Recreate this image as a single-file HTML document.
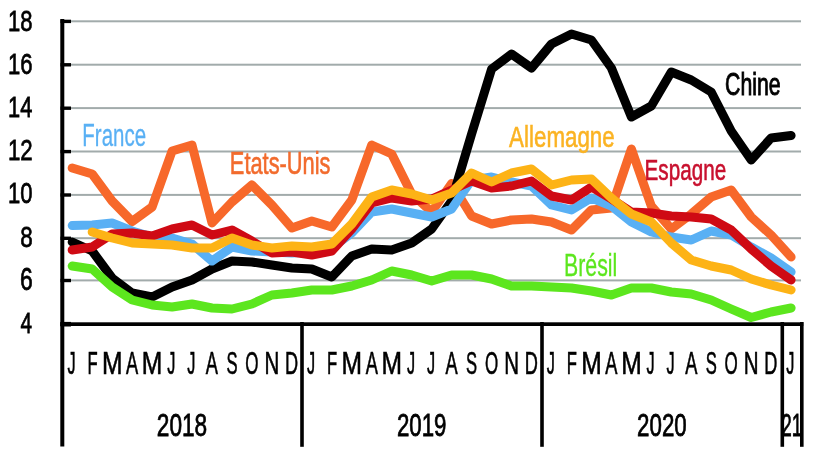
<!DOCTYPE html><html><head><meta charset="utf-8"><style>html,body{margin:0;padding:0;background:#fff;width:820px;height:449px;overflow:hidden}svg{display:block;will-change:transform}text{font-family:"Liberation Sans",sans-serif}</style></head><body>
<svg width="820" height="449" viewBox="0 0 820 449">
<rect x="64" y="20.3" width="737" height="2" fill="#A2ABAB"/>
<rect x="60.5" y="19.7" width="10.5" height="3.4" fill="#000"/>
<rect x="64" y="63.7" width="737" height="2" fill="#A2ABAB"/>
<rect x="60.5" y="63.1" width="10.5" height="3.4" fill="#000"/>
<rect x="64" y="107.1" width="737" height="2" fill="#A2ABAB"/>
<rect x="60.5" y="106.5" width="10.5" height="3.4" fill="#000"/>
<rect x="64" y="150.5" width="737" height="2" fill="#A2ABAB"/>
<rect x="60.5" y="149.9" width="10.5" height="3.4" fill="#000"/>
<rect x="64" y="193.9" width="737" height="2" fill="#A2ABAB"/>
<rect x="60.5" y="193.3" width="10.5" height="3.4" fill="#000"/>
<rect x="64" y="237.2" width="737" height="2" fill="#A2ABAB"/>
<rect x="60.5" y="236.6" width="10.5" height="3.4" fill="#000"/>
<rect x="64" y="279.4" width="737" height="2" fill="#A2ABAB"/>
<rect x="60.5" y="278.8" width="10.5" height="3.4" fill="#000"/>
<rect x="60.3" y="19" width="4" height="427.5" fill="#000"/>
<rect x="60.3" y="322.3" width="743" height="3.7" fill="#000"/>
<rect x="60.5" y="321.9" width="10.5" height="4.6" fill="#000"/>
<text transform="translate(7.98,31.10) scale(0.2206,0.3042)" font-size="100" fill="#000" stroke="#000" stroke-width="2.5">18</text>
<text transform="translate(7.98,73.70) scale(0.2206,0.3042)" font-size="100" fill="#000" stroke="#000" stroke-width="2.5">16</text>
<text transform="translate(7.99,117.20) scale(0.2184,0.3042)" font-size="100" fill="#000" stroke="#000" stroke-width="2.5">14</text>
<text transform="translate(7.96,160.40) scale(0.2228,0.3042)" font-size="100" fill="#000" stroke="#000" stroke-width="2.5">12</text>
<text transform="translate(7.98,203.40) scale(0.2206,0.3042)" font-size="100" fill="#000" stroke="#000" stroke-width="2.5">10</text>
<text transform="translate(20.13,246.90) scale(0.2245,0.3042)" font-size="100" fill="#000" stroke="#000" stroke-width="2.5">8</text>
<text transform="translate(19.88,290.10) scale(0.2292,0.3042)" font-size="100" fill="#000" stroke="#000" stroke-width="2.5">6</text>
<text transform="translate(20.59,333.20) scale(0.2075,0.3042)" font-size="100" fill="#000" stroke="#000" stroke-width="2.5">4</text>
<text transform="translate(67.44,374.49) scale(0.1628,0.3085)" font-size="100" fill="#000" stroke="#000" stroke-width="2">J</text>
<text transform="translate(87.45,374.49) scale(0.1667,0.3085)" font-size="100" fill="#000" stroke="#000" stroke-width="2">F</text>
<text transform="translate(101.92,374.49) scale(0.2464,0.3085)" font-size="100" fill="#000" stroke="#000" stroke-width="2">M</text>
<text transform="translate(125.99,374.49) scale(0.1826,0.3085)" font-size="100" fill="#000" stroke="#000" stroke-width="2">A</text>
<text transform="translate(141.86,374.49) scale(0.2464,0.3085)" font-size="100" fill="#000" stroke="#000" stroke-width="2">M</text>
<text transform="translate(167.29,374.49) scale(0.1628,0.3085)" font-size="100" fill="#000" stroke="#000" stroke-width="2">J</text>
<text transform="translate(187.26,374.49) scale(0.1628,0.3085)" font-size="100" fill="#000" stroke="#000" stroke-width="2">J</text>
<text transform="translate(205.87,374.49) scale(0.1826,0.3085)" font-size="100" fill="#000" stroke="#000" stroke-width="2">A</text>
<text transform="translate(226.40,374.49) scale(0.1661,0.3085)" font-size="100" fill="#000" stroke="#000" stroke-width="2">S</text>
<text transform="translate(245.30,374.49) scale(0.1700,0.3085)" font-size="100" fill="#000" stroke="#000" stroke-width="2">O</text>
<text transform="translate(264.51,374.49) scale(0.2052,0.3085)" font-size="100" fill="#000" stroke="#000" stroke-width="2">N</text>
<text transform="translate(285.05,374.49) scale(0.1820,0.3085)" font-size="100" fill="#000" stroke="#000" stroke-width="2">D</text>
<text transform="translate(307.08,374.49) scale(0.1628,0.3085)" font-size="100" fill="#000" stroke="#000" stroke-width="2">J</text>
<text transform="translate(327.09,374.49) scale(0.1667,0.3085)" font-size="100" fill="#000" stroke="#000" stroke-width="2">F</text>
<text transform="translate(341.56,374.49) scale(0.2464,0.3085)" font-size="100" fill="#000" stroke="#000" stroke-width="2">M</text>
<text transform="translate(365.63,374.49) scale(0.1826,0.3085)" font-size="100" fill="#000" stroke="#000" stroke-width="2">A</text>
<text transform="translate(381.50,374.49) scale(0.2464,0.3085)" font-size="100" fill="#000" stroke="#000" stroke-width="2">M</text>
<text transform="translate(406.93,374.49) scale(0.1628,0.3085)" font-size="100" fill="#000" stroke="#000" stroke-width="2">J</text>
<text transform="translate(426.90,374.49) scale(0.1628,0.3085)" font-size="100" fill="#000" stroke="#000" stroke-width="2">J</text>
<text transform="translate(445.51,374.49) scale(0.1826,0.3085)" font-size="100" fill="#000" stroke="#000" stroke-width="2">A</text>
<text transform="translate(466.04,374.49) scale(0.1661,0.3085)" font-size="100" fill="#000" stroke="#000" stroke-width="2">S</text>
<text transform="translate(484.94,374.49) scale(0.1700,0.3085)" font-size="100" fill="#000" stroke="#000" stroke-width="2">O</text>
<text transform="translate(504.15,374.49) scale(0.2052,0.3085)" font-size="100" fill="#000" stroke="#000" stroke-width="2">N</text>
<text transform="translate(524.69,374.49) scale(0.1820,0.3085)" font-size="100" fill="#000" stroke="#000" stroke-width="2">D</text>
<text transform="translate(546.72,374.49) scale(0.1628,0.3085)" font-size="100" fill="#000" stroke="#000" stroke-width="2">J</text>
<text transform="translate(566.73,374.49) scale(0.1667,0.3085)" font-size="100" fill="#000" stroke="#000" stroke-width="2">F</text>
<text transform="translate(581.20,374.49) scale(0.2464,0.3085)" font-size="100" fill="#000" stroke="#000" stroke-width="2">M</text>
<text transform="translate(605.27,374.49) scale(0.1826,0.3085)" font-size="100" fill="#000" stroke="#000" stroke-width="2">A</text>
<text transform="translate(621.14,374.49) scale(0.2464,0.3085)" font-size="100" fill="#000" stroke="#000" stroke-width="2">M</text>
<text transform="translate(646.57,374.49) scale(0.1628,0.3085)" font-size="100" fill="#000" stroke="#000" stroke-width="2">J</text>
<text transform="translate(666.54,374.49) scale(0.1628,0.3085)" font-size="100" fill="#000" stroke="#000" stroke-width="2">J</text>
<text transform="translate(685.15,374.49) scale(0.1826,0.3085)" font-size="100" fill="#000" stroke="#000" stroke-width="2">A</text>
<text transform="translate(705.68,374.49) scale(0.1661,0.3085)" font-size="100" fill="#000" stroke="#000" stroke-width="2">S</text>
<text transform="translate(724.58,374.49) scale(0.1700,0.3085)" font-size="100" fill="#000" stroke="#000" stroke-width="2">O</text>
<text transform="translate(743.79,374.49) scale(0.2052,0.3085)" font-size="100" fill="#000" stroke="#000" stroke-width="2">N</text>
<text transform="translate(764.33,374.49) scale(0.1820,0.3085)" font-size="100" fill="#000" stroke="#000" stroke-width="2">D</text>
<text transform="translate(786.36,374.49) scale(0.1628,0.3085)" font-size="100" fill="#000" stroke="#000" stroke-width="2">J</text>
<text transform="translate(156.79,436.09) scale(0.2265,0.3099)" font-size="100" fill="#000" stroke="#000" stroke-width="2.5">2018</text>
<text transform="translate(396.91,436.09) scale(0.2228,0.3099)" font-size="100" fill="#000" stroke="#000" stroke-width="2.5">2019</text>
<text transform="translate(637.11,436.09) scale(0.2231,0.3099)" font-size="100" fill="#000" stroke="#000" stroke-width="2.5">2020</text>
<text transform="translate(781.24,436.09) scale(0.1893,0.3099)" font-size="100" fill="#000" stroke="#000" stroke-width="2.5">21</text>
<rect x="300.2" y="322" width="3.6" height="124.8" fill="#000"/>
<rect x="540.2" y="322" width="3.6" height="124.8" fill="#000"/>
<rect x="780.5" y="322" width="3.6" height="124.8" fill="#000"/>
<rect x="800" y="322" width="3.6" height="124.8" fill="#000"/>
<polyline points="72.2,168 92.2,174 112.1,201 132.1,221.5 152.1,207 172.1,151 192.0,145 212.0,223 232.0,202 251.9,185 271.9,205 291.9,228 311.8,221 331.8,227 351.8,200 371.7,145 391.7,154 411.7,194 431.7,212 451.6,183.5 471.6,216 491.6,224 511.5,220 531.5,219 551.5,222 571.5,230 591.4,210 611.4,208 631.4,149 651.3,206 671.3,229 691.3,214 711.2,197 731.2,190 751.2,217 771.1,235 791.1,257" fill="none" stroke="#F7682A" stroke-width="9" stroke-linejoin="round" stroke-linecap="round"/>
<polyline points="72.2,242 92.2,251 112.1,278 132.1,293 152.1,297 172.1,287 192.0,280 212.0,269 232.0,261 251.9,262 271.9,265 291.9,268 311.8,269 331.8,277 351.8,256 371.7,249 391.7,250 411.7,243 431.7,229 451.6,201 471.6,134 491.6,69 511.5,54 531.5,68 551.5,44 571.5,34 591.4,40 611.4,68 631.4,117 651.3,106 671.3,72 691.3,80 711.2,92 731.2,131 751.2,160 771.1,138 791.1,135.5" fill="none" stroke="#000000" stroke-width="9" stroke-linejoin="round" stroke-linecap="round"/>
<polyline points="72.2,266 92.2,269 112.1,287 132.1,300 152.1,305 172.1,307 192.0,304 212.0,308 232.0,309 251.9,304 271.9,295 291.9,293 311.8,290 331.8,290 351.8,286 371.7,280 391.7,271 411.7,275 431.7,281 451.6,275 471.6,275 491.6,279 511.5,286 531.5,286 551.5,287 571.5,288 591.4,291 611.4,295 631.4,288 651.3,288 671.3,292 691.3,294 711.2,300 731.2,309 751.2,317.5 771.1,312 791.1,308" fill="none" stroke="#5CE61E" stroke-width="9" stroke-linejoin="round" stroke-linecap="round"/>
<polyline points="72.2,225.5 92.2,225 112.1,223 132.1,231 152.1,237 172.1,238 192.0,244 212.0,261 232.0,247 251.9,251 271.9,252 291.9,253 311.8,252 331.8,248 351.8,233 371.7,212 391.7,209 411.7,213 431.7,217 451.6,209 471.6,180 491.6,177 511.5,182 531.5,186 551.5,205 571.5,210 591.4,198 611.4,206 631.4,222 651.3,232 671.3,237 691.3,240 711.2,231 731.2,235 751.2,247 771.1,258 791.1,272" fill="none" stroke="#59B0F4" stroke-width="9" stroke-linejoin="round" stroke-linecap="round"/>
<polyline points="72.2,250 92.2,247 112.1,234 132.1,233 152.1,236 172.1,229 192.0,225 212.0,235 232.0,230 251.9,241 271.9,253 291.9,252 311.8,255 331.8,251 351.8,229 371.7,203 391.7,198 411.7,201 431.7,199 451.6,190 471.6,181 491.6,188 511.5,186 531.5,181 551.5,196 571.5,200 591.4,187 611.4,199 631.4,212 651.3,213 671.3,216 691.3,217 711.2,219 731.2,230 751.2,249 771.1,266 791.1,280" fill="none" stroke="#CF0A14" stroke-width="9" stroke-linejoin="round" stroke-linecap="round"/>
<polyline points="92.2,232 112.1,238 132.1,243 152.1,244 172.1,245 192.0,248 212.0,248 232.0,238 251.9,245 271.9,248 291.9,246 311.8,247 331.8,244 351.8,224 371.7,197 391.7,190 411.7,194 431.7,200 451.6,193 471.6,173 491.6,182 511.5,173 531.5,169 551.5,185 571.5,180 591.4,179 611.4,198 631.4,214 651.3,222 671.3,243 691.3,260 711.2,266 731.2,270 751.2,279 771.1,285 791.1,290" fill="none" stroke="#FDB316" stroke-width="9" stroke-linejoin="round" stroke-linecap="round"/>
<text transform="translate(82.36,146.00) scale(0.2047,0.3145)" font-size="100" fill="#59B0F4" stroke="#59B0F4" stroke-width="1">France</text>
<text transform="translate(229.87,174.09) scale(0.2181,0.3070)" font-size="100" fill="#F26B2D" stroke="#F26B2D" stroke-width="2">Etats-Unis</text>
<text transform="translate(509.12,147.30) scale(0.2236,0.3000)" font-size="100" fill="#FBB323" stroke="#FBB323" stroke-width="2">Allemagne</text>
<text transform="translate(644.55,179.50) scale(0.2068,0.3028)" font-size="100" fill="#C8102E" stroke="#C8102E" stroke-width="2">Espagne</text>
<text transform="translate(725.05,95.49) scale(0.2126,0.3141)" font-size="100" fill="#000" stroke="#000" stroke-width="3">Chine</text>
<text transform="translate(563.99,276.00) scale(0.2131,0.3116)" font-size="100" fill="#5CE61E" stroke="#5CE61E" stroke-width="1">Brésil</text>
</svg></body></html>
